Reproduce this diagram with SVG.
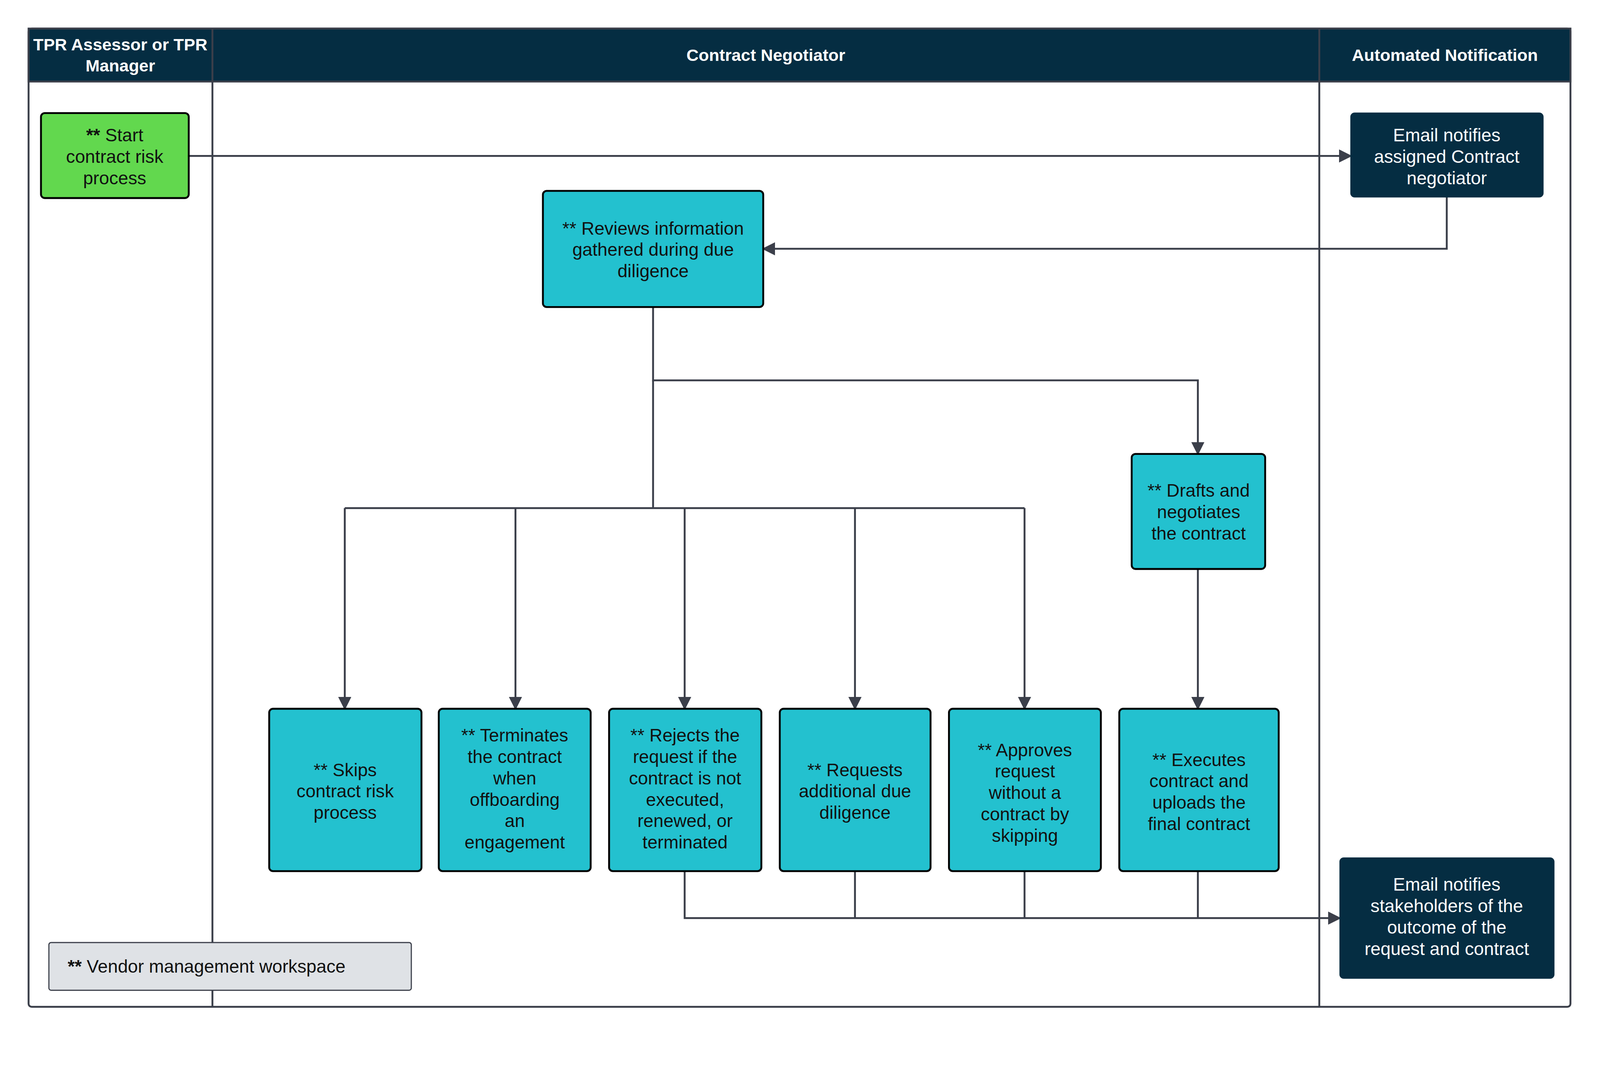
<svg xmlns="http://www.w3.org/2000/svg" width="4234" height="2743" viewBox="0 0 4234 2743">
<style>
.t{font-family:"Liberation Sans",Arial,sans-serif;font-size:48px;text-anchor:middle;fill:#111}
.w{fill:#fff}
.h{font-weight:bold;font-size:45px;fill:#fff}
.b{fill:#23c1cf;stroke:#000;stroke-width:5}
.d{fill:#052d42;stroke:#052d42;stroke-width:3}
.c{fill:none;stroke:#3b3f4a;stroke-width:5}
</style>
<defs>
<marker id="m" viewBox="0 0 10 10" refX="9" refY="5" markerWidth="7" markerHeight="7" orient="auto"><path d="M0,0 L10,5 L0,10z" fill="#3b3f4a"/></marker></defs>
<g transform="scale(0.9625)">
<g id="pool">
<rect x="76" y="76" width="4101" height="2603" rx="8" fill="#fff" stroke="#3b3f4a" stroke-width="5"/>
<rect x="76" y="76" width="4101" height="141" fill="#052d42" stroke="#3b3f4a" stroke-width="5"/>
<line x1="565" y1="76" x2="565" y2="2679" stroke="#3b3f4a" stroke-width="5"/>
<line x1="3509" y1="76" x2="3509" y2="2679" stroke="#3b3f4a" stroke-width="5"/>
<text class="t h" x="320" y="134">TPR Assessor or TPR</text>
<text class="t h" x="320" y="190">Manager</text>
<text class="t h" x="2037" y="162">Contract Negotiator</text>
<text class="t h" x="3843" y="162">Automated Notification</text>
</g>
<g id="connectors" class="c">
<path d="M502,415 H3593" marker-end="url(#m)"/>
<path d="M3848,524 V662 H2030" marker-end="url(#m)"/>
<path d="M1737,817 V1012 H3186 V1208" marker-end="url(#m)"/>
<path d="M1737,1012 V1352"/>
<path d="M917,1352 H2725"/>
<path d="M917,1352 V1886" marker-end="url(#m)"/>
<path d="M1371,1352 V1886" marker-end="url(#m)"/>
<path d="M1821,1352 V1886" marker-end="url(#m)"/>
<path d="M2274,1352 V1886" marker-end="url(#m)"/>
<path d="M2725,1352 V1886" marker-end="url(#m)"/>
<path d="M3186,1514 V1886" marker-end="url(#m)"/>
<path d="M1821,2318 V2443 H3564" marker-end="url(#m)"/>
<path d="M2274,2318 V2443 M2725,2318 V2443 M3186,2318 V2443"/>
</g>
<g id="start"><rect x="109" y="301" width="393" height="226" rx="10" fill="#62d84e" stroke="#000" stroke-width="5"/>
<text class="t" x="305" y="376"><tspan font-weight="bold">**</tspan> Start</text><text class="t" x="305" y="433">contract risk</text><text class="t" x="305" y="490">process</text></g>
<g id="email1"><rect class="d" x="3593" y="301" width="511" height="223" rx="10"/>
<text class="t w" x="3848" y="376">Email notifies</text><text class="t w" x="3848" y="433">assigned Contract</text><text class="t w" x="3848" y="490">negotiator</text></g>
<g id="reviews"><rect class="b" x="1444" y="508" width="586" height="309" rx="10"/>
<text class="t" x="1737" y="624">** Reviews information</text><text class="t" x="1737" y="681">gathered during due</text><text class="t" x="1737" y="738">diligence</text></g>
<g id="drafts"><rect class="b" x="3010" y="1208" width="355" height="306" rx="10"/>
<text class="t" x="3188" y="1322">** Drafts and</text><text class="t" x="3188" y="1379">negotiates</text><text class="t" x="3188" y="1436">the contract</text></g>
<g id="skips"><rect class="b" x="716" y="1886" width="405" height="432" rx="10"/>
<text class="t" x="918" y="2065">** Skips</text><text class="t" x="918" y="2122">contract risk</text><text class="t" x="918" y="2179">process</text></g>
<g id="terminates"><rect class="b" x="1167" y="1886" width="404" height="432" rx="10"/>
<text class="t" x="1369" y="1973">** Terminates</text><text class="t" x="1369" y="2030">the contract</text><text class="t" x="1369" y="2087">when</text><text class="t" x="1369" y="2144">offboarding</text><text class="t" x="1369" y="2201">an</text><text class="t" x="1369" y="2258">engagement</text></g>
<g id="rejects"><rect class="b" x="1620" y="1886" width="405" height="432" rx="10"/>
<text class="t" x="1822" y="1973">** Rejects the</text><text class="t" x="1822" y="2030">request if the</text><text class="t" x="1822" y="2087">contract is not</text><text class="t" x="1822" y="2144">executed,</text><text class="t" x="1822" y="2201">renewed, or</text><text class="t" x="1822" y="2258">terminated</text></g>
<g id="requests"><rect class="b" x="2074" y="1886" width="401" height="432" rx="10"/>
<text class="t" x="2274" y="2065">** Requests</text><text class="t" x="2274" y="2122">additional due</text><text class="t" x="2274" y="2179">diligence</text></g>
<g id="approves"><rect class="b" x="2524" y="1886" width="404" height="432" rx="10"/>
<text class="t" x="2726" y="2012">** Approves</text><text class="t" x="2726" y="2069">request</text><text class="t" x="2726" y="2126">without a</text><text class="t" x="2726" y="2183">contract by</text><text class="t" x="2726" y="2240">skipping</text></g>
<g id="executes"><rect class="b" x="2977" y="1886" width="424" height="432" rx="10"/>
<text class="t" x="3189" y="2038">** Executes</text><text class="t" x="3189" y="2095">contract and</text><text class="t" x="3189" y="2152">uploads the</text><text class="t" x="3189" y="2209">final contract</text></g>
<g id="email2"><rect class="d" x="3564" y="2283" width="569" height="320" rx="10"/>
<text class="t w" x="3848" y="2370">Email notifies</text><text class="t w" x="3848" y="2427">stakeholders of the</text><text class="t w" x="3848" y="2484">outcome of the</text><text class="t w" x="3848" y="2541">request and contract</text></g>
<g id="vendor"><rect x="130" y="2508" width="964" height="127" rx="6" fill="#dfe2e6" stroke="#3b3f4a" stroke-width="3"/>
<text class="t" x="180" y="2588" style="text-anchor:start"><tspan font-weight="bold">**</tspan> Vendor management workspace</text></g>
</g>
</svg>
